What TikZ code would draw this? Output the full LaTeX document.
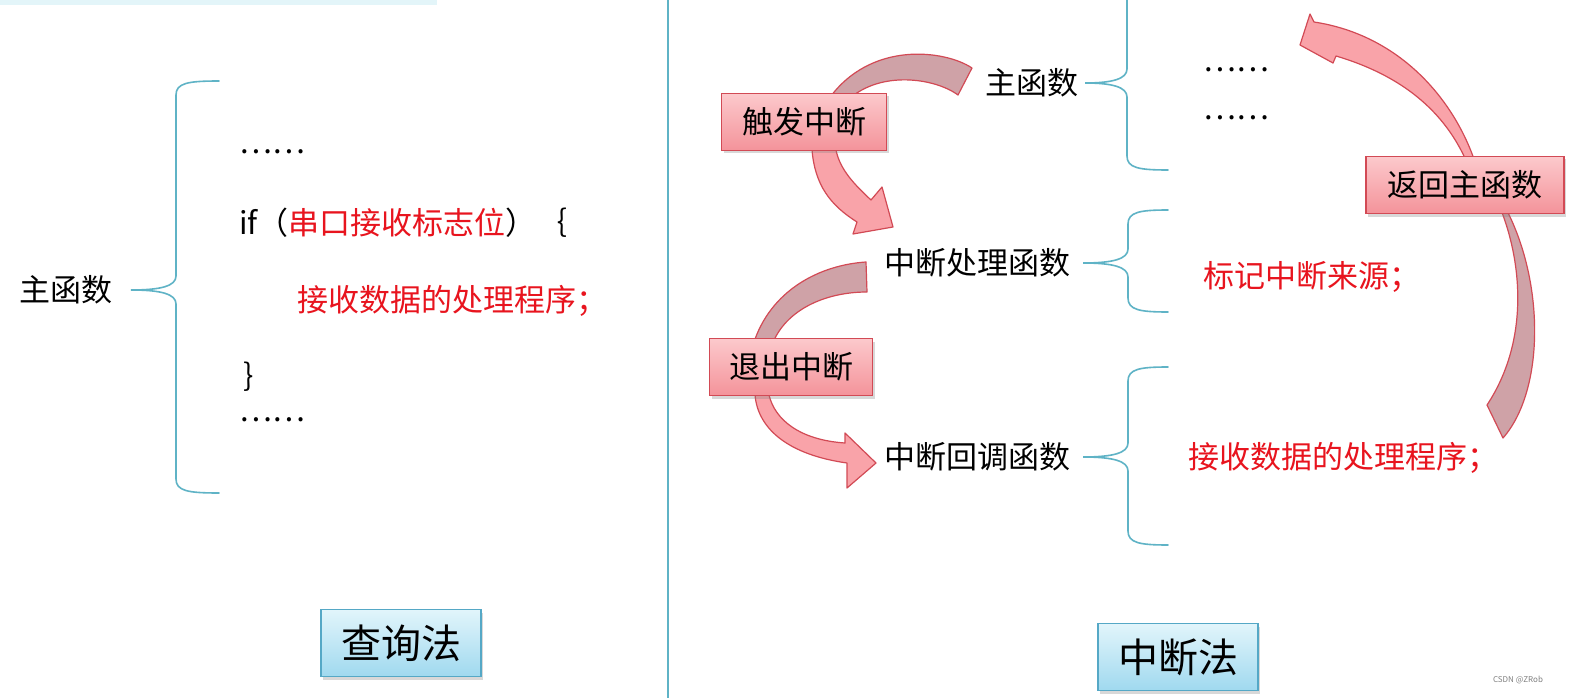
\documentclass[tikz,border=0pt]{standalone}
\usepackage{fontspec}
\setmainfont{Noto Sans CJK SC}
\usetikzlibrary{shadows}
\definecolor{lineteal}{HTML}{5FB3C6}
\definecolor{keyred}{HTML}{E8141E}
\definecolor{edgered}{HTML}{D24A55}
\definecolor{pinktop}{HTML}{FCC9CC}
\definecolor{pinkbot}{HTML}{F4939A}
\definecolor{arrowpink}{HTML}{F9A3A9}
\definecolor{backpink}{HTML}{CFA2A7}
\definecolor{skytop}{HTML}{E2F5FB}
\definecolor{skybot}{HTML}{9FD9EF}
\definecolor{skyedge}{HTML}{55A8C6}
\definecolor{stripcyan}{HTML}{E3F5F9}
% brace: tip x, tip y, spine x, top y, bottom y, end x
\newcommand{\bracepath}[6]{%
  \draw[b] (#6,#4) .. controls (#3+12,#4) and (#3,#4+2) .. (#3,#4+14) -- (#3,#2-14)
    .. controls (#3,#2-4) and (#3-15,#2) .. (#1,#2)
    .. controls (#3-15,#2) and (#3,#2+4) .. (#3,#2+14) -- (#3,#5-14)
    .. controls (#3,#5-2) and (#3+12,#5) .. (#6,#5);}

\begin{document}
\begin{tikzpicture}[x=1pt, y=-1pt,
  t/.style={inner sep=0pt, font=\fontsize{31}{31}\selectfont},
  r/.style={t, text=keyred},
  b/.style={line width=1.6pt, lineteal, line cap=round},
  tag/.style={rectangle, draw=edgered, line width=1.3pt, top color=pinktop, bottom color=pinkbot,
              minimum height=57pt, inner sep=0pt, font=\fontsize{31}{31}\selectfont,
              drop shadow={opacity=0.3, shadow xshift=2pt, shadow yshift=-3pt}},
  btn/.style={rectangle, draw=skyedge, line width=1.3pt, top color=skytop, bottom color=skybot,
              minimum width=160pt, minimum height=67pt, inner sep=0pt, font=\fontsize{40}{40}\selectfont,
              drop shadow={opacity=0.3, shadow xshift=2pt, shadow yshift=-3pt}},
  fa/.style={draw=edgered, line width=1.2pt, fill=arrowpink, line join=round},
  ba/.style={draw=edgered, line width=1.2pt, fill=backpink, line join=round}]
\useasboundingbox (0,0) rectangle (1575,698);
\fill[white] (0,0) rectangle (1575,698);
\fill[stripcyan] (0,0) rectangle (437,5);
\draw[lineteal, line width=1.8pt] (668,0) -- (668,698);

% left: polling
\bracepath{131}{290}{176}{81}{493}{219}
\node[t] (lmain) at (66,290) {主函数};
\node[t, anchor=west] (ldots1) at (239,152) {……};
\node[t, anchor=west] (ifline) at (239,223) {if（\textcolor{keyred}{串口接收标志位}）｛};
\node[r, anchor=west] (lrecv) at (297,301) {接收数据的处理程序；};
\node[t, anchor=west] (lclose) at (243,377) {｝};
\node[t, anchor=west] (ldots2) at (239,420) {……};
\node[btn] (poll) at (401,643) {查询法};

% right: interrupt
\bracepath{1085}{83}{1127}{-30}{170}{1168}
\bracepath{1083}{263}{1128}{210}{312}{1168}
\bracepath{1083}{457}{1128}{367}{545}{1168}

% curved arrows (back parts, then front parts)
\filldraw[ba] (972,68) .. controls (945,50) and (870,40) .. (828,100) -- (848,100)
  .. controls (880,70) and (935,78) .. (958,95) -- cycle;
\filldraw[fa] (810,140) -- (812,150) .. controls (815,185) and (830,205) .. (857,222)
  -- (853,234) -- (893,227) -- (882,187) -- (871,200)
  .. controls (855,185) and (840,170) .. (836,150) -- (836,140) -- cycle;
\filldraw[ba] (866,262) .. controls (820,265) and (770,290) .. (753,345) -- (772,345)
  .. controls (785,310) and (825,292) .. (867,292) -- cycle;
\filldraw[fa] (754,385) -- (755,395) .. controls (758,430) and (790,455) .. (847,463)
  -- (847,488) -- (876,463) -- (845,433) -- (845,443)
  .. controls (800,440) and (775,420) .. (769,395) -- (769,385) -- cycle;
\filldraw[ba] (1499,205) .. controls (1522,260) and (1530,340) .. (1487,405) -- (1503,438)
  .. controls (1545,390) and (1545,280) .. (1504,205) -- cycle;
\filldraw[fa] (1314,22) -- (1310,14) -- (1300,45) -- (1333,63) -- (1336,56)
  .. controls (1400,75) and (1445,110) .. (1468,165) -- (1476,165)
  .. controls (1455,100) and (1400,35) .. (1314,22) -- cycle;

\node[tag, minimum width=165pt] (trig) at (804,122) {触发中断};
\node[tag, minimum width=163pt] (quit) at (791,367) {退出中断};
\node[tag, minimum width=198pt] (back) at (1465,185) {返回主函数};

\node[t] (rmain) at (1032,83) {主函数};
\node[t] (isr) at (977,263) {中断处理函数};
\node[t] (cb) at (977,457) {中断回调函数};
\node[t, anchor=west] (rdots1) at (1203,70) {……};
\node[t, anchor=west] (rdots2) at (1203,118) {……};
\node[r, anchor=west] (mark) at (1203,277) {标记中断来源；};
\node[r, anchor=west] (rrecv) at (1188,458) {接收数据的处理程序；};
\node[btn] (irq) at (1178,657) {中断法};

\node[inner sep=0pt, text=gray, font=\fontsize{8}{8}\selectfont] (wm) at (1518,680) {CSDN @ZRob};
\end{tikzpicture}
\end{document}
